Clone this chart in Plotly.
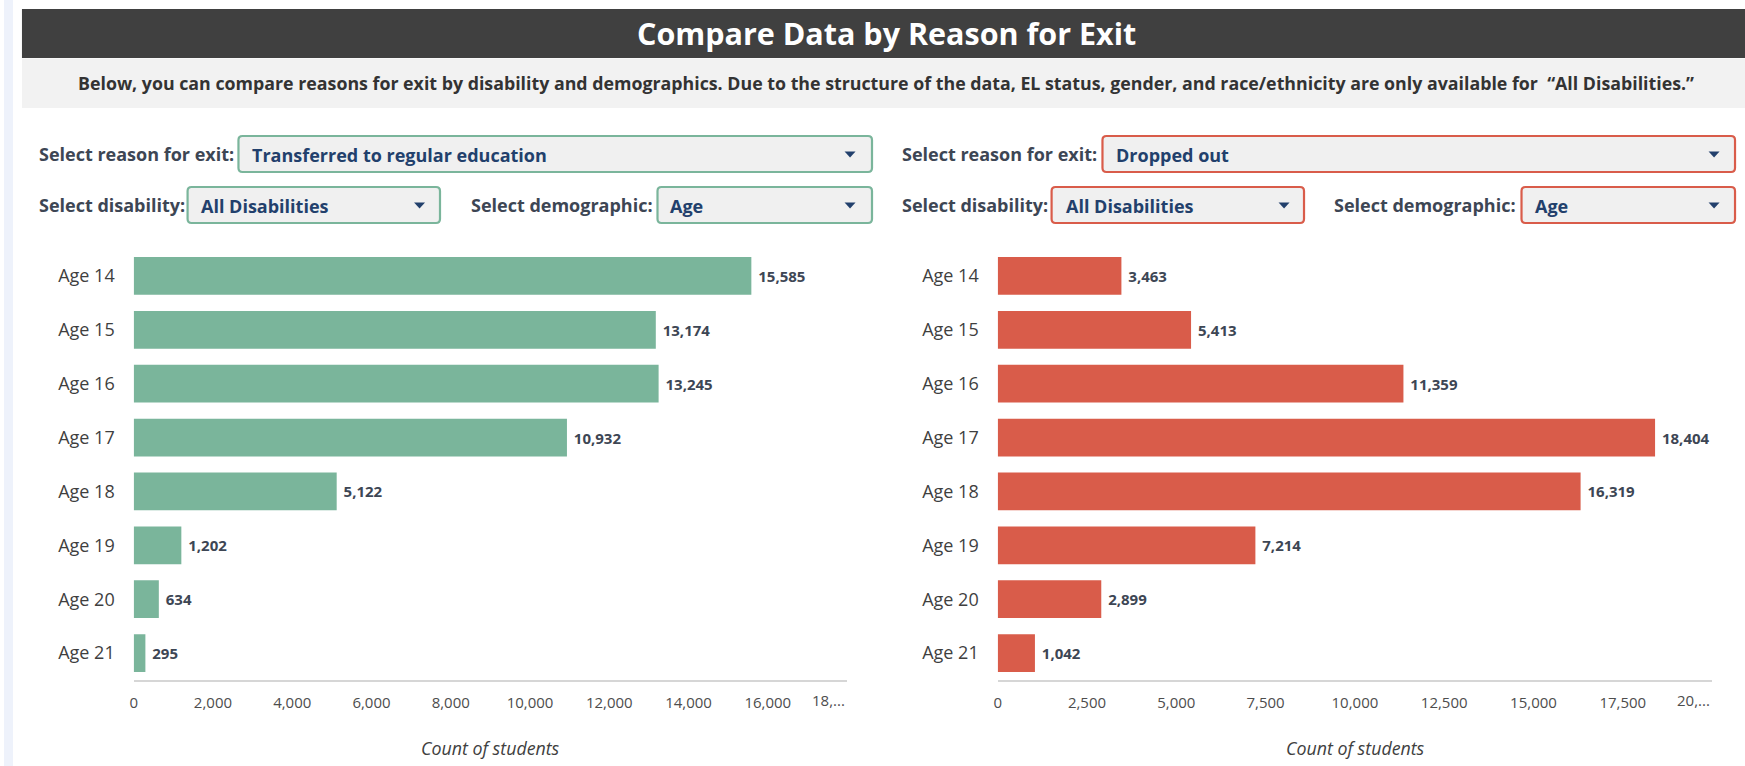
import plotly.graph_objects as go

# ---------------- data ----------------
ages = ["Age 14", "Age 15", "Age 16", "Age 17", "Age 18", "Age 19", "Age 20", "Age 21"]
transferred = [15585, 13174, 13245, 10932, 5122, 1202, 634, 295]
dropped = [3463, 5413, 11359, 18404, 16319, 7214, 2899, 1042]

left_ticks = [0, 2000, 4000, 6000, 8000, 10000, 12000, 14000, 16000]
right_ticks = [0, 2500, 5000, 7500, 10000, 12500, 15000, 17500]
left_trunc_label = "18,..."
right_trunc_label = "20,..."

title_text = "Compare Data by Reason for Exit"
subtitle_text = ("Below, you can compare reasons for exit by disability and demographics. "
                 "Due to the structure of the data, EL status, gender, and race/ethnicity are "
                 "only available for \u00a0\u201cAll Disabilities.\u201d")
x_title = "Count of students"

# ---------------- layout helpers ----------------
W, H = 1745, 766
FONT = "Open Sans"
GREEN = "#7ab59b"
RED = "#d95c4a"
LABEL_C = "#3d4654"
NAVY = "#22406c"
TICK_C = "#4d4d4d"


def px(x):
    return x / W


def py(y):
    return 1 - y / H


def path_from(pts_cmds):
    s = ""
    for cmd, ps in pts_cmds:
        s += cmd + " " + " ".join(f"{px(a):.6f},{py(b):.6f}" for a, b in ps) + " "
    return s + "Z"


def rrect(x0, y0, x1, y1, r=4):
    return path_from([
        ("M", [(x0 + r, y0)]),
        ("L", [(x1 - r, y0)]),
        ("Q", [(x1, y0), (x1, y0 + r)]),
        ("L", [(x1, y1 - r)]),
        ("Q", [(x1, y1), (x1 - r, y1)]),
        ("L", [(x0 + r, y1)]),
        ("Q", [(x0, y1), (x0, y1 - r)]),
        ("L", [(x0, y0 + r)]),
        ("Q", [(x0, y0), (x0 + r, y0)]),
    ])


def tri(xc, yc, w=11, h=6):
    return path_from([
        ("M", [(xc - w / 2, yc - h / 2)]),
        ("L", [(xc + w / 2, yc - h / 2)]),
        ("L", [(xc, yc + h / 2)]),
    ])


fig = go.Figure()

bar_text_font = dict(family=FONT, size=15, color=LABEL_C, weight=700)
fig.add_trace(go.Bar(
    y=ages, x=transferred, orientation="h", marker=dict(color=GREEN, line=dict(width=0)),
    texttemplate="\u00a0%{x:,}", textposition="outside", cliponaxis=False,
    textfont=bar_text_font, xaxis="x", yaxis="y", showlegend=False, hoverinfo="skip",
))
fig.add_trace(go.Bar(
    y=ages, x=dropped, orientation="h", marker=dict(color=RED, line=dict(width=0)),
    texttemplate="\u00a0%{x:,}", textposition="outside", cliponaxis=False,
    textfont=bar_text_font, xaxis="x2", yaxis="y2", showlegend=False, hoverinfo="skip",
))

y_dom = [py(680), py(249)]
axis_common_x = dict(
    showgrid=False, zeroline=False, showline=True, linecolor="#d6d6d6", linewidth=2,
    ticks="", ticklabelstandoff=8, tickformat=",d",
    tickfont=dict(family=FONT, size=15, color=TICK_C), fixedrange=True,
)
axis_common_y = dict(
    showgrid=False, zeroline=False, showline=False, ticks="",
    categoryorder="array", categoryarray=ages, autorange="reversed",
    tickfont=dict(family=FONT, size=18, color="#3f3f3f"), ticklabelstandoff=18, fixedrange=True,
)

fig.update_layout(
    width=W, height=H, autosize=False,
    margin=dict(l=0, r=0, t=0, b=0, pad=0),
    paper_bgcolor="white", plot_bgcolor="white",
    font=dict(family=FONT),
    bargap=0.298,
    xaxis=dict(domain=[px(130), px(845)], range=[0, 18000], tickvals=left_ticks, anchor="y", **axis_common_x),
    yaxis=dict(domain=y_dom, anchor="x", **axis_common_y),
    xaxis2=dict(domain=[px(996), px(1712)], range=[0, 20000], tickvals=right_ticks, anchor="y2", **axis_common_x),
    yaxis2=dict(domain=y_dom, anchor="x2", **axis_common_y),
)

shapes = []
# left light strip
shapes.append(dict(type="rect", xref="paper", yref="paper", x0=0, x1=px(9), y0=0, y1=1,
                   fillcolor="#eef2fb", line=dict(width=0), layer="below"))
# header bands
shapes.append(dict(type="rect", xref="paper", yref="paper", x0=px(18), x1=1, y0=py(58), y1=py(9),
                   fillcolor="#404040", line=dict(width=0), layer="below"))
shapes.append(dict(type="rect", xref="paper", yref="paper", x0=px(18), x1=1, y0=py(108), y1=py(58.5),
                   fillcolor="#f2f2f2", line=dict(width=0), layer="below"))

annotations = [
    dict(text=title_text, x=px(885), y=py(33.5), xref="paper", yref="paper", showarrow=False,
         xanchor="center", yanchor="middle",
         font=dict(family=FONT, size=30.5, color="white", weight=700)),
    dict(text=subtitle_text, x=px(884), y=py(83), xref="paper", yref="paper", showarrow=False,
         xanchor="center", yanchor="middle",
         font=dict(family=FONT, size=17.8, color="#333333", weight=700)),
]

# dropdown controls: (label, label_x_left, box_x0, box_x1, row_center, value, text_x, arrow_x, color)
controls = [
    ("Select reason for exit:", 36, 235, 870, 154, "Transferred to regular education", 250, 848, GREEN),
    ("Select disability:", 36, 184, 437, 205, "All Disabilities", 198, 416.5, GREEN),
    ("Select demographic:", 469, 655, 870, 205, "Age", 669, 848, GREEN),
    ("Select reason for exit:", 901, 1101, 1735, 154, "Dropped out", 1116, 1714, RED),
    ("Select disability:", 901, 1050, 1303, 205, "All Disabilities", 1065, 1283, RED),
    ("Select demographic:", 1334, 1521, 1735, 205, "Age", 1536, 1714, RED),
]
for label, lx, bx0, bx1, yc, val, tx, ax, col in controls:
    shapes.append(dict(type="path", xref="paper", yref="paper", path=rrect(bx0, yc - 18, bx1, yc + 18, 4),
                       fillcolor="#f0f0f0", line=dict(color=col, width=2.2), layer="below"))
    shapes.append(dict(type="path", xref="paper", yref="paper", path=tri(ax, yc + 0.5),
                       fillcolor=NAVY, line=dict(width=0), layer="above"))
    annotations.append(dict(text=label, x=px(lx - 3), y=py(yc), xref="paper", yref="paper", showarrow=False,
                            xanchor="left", yanchor="middle",
                            font=dict(family=FONT, size=18, color=LABEL_C, weight=700)))
    annotations.append(dict(text=val, x=px(tx - 3), y=py(yc + 1), xref="paper", yref="paper", showarrow=False,
                            xanchor="left", yanchor="middle",
                            font=dict(family=FONT, size=18, color=NAVY, weight=700)))

# truncated last tick labels
annotations.append(dict(text=left_trunc_label, x=18000, xref="x", y=py(700), yref="paper", showarrow=False,
                        xanchor="right", yanchor="middle",
                        font=dict(family=FONT, size=15, color=TICK_C)))
annotations.append(dict(text=right_trunc_label, x=20000, xref="x2", y=py(700), yref="paper", showarrow=False,
                        xanchor="right", yanchor="middle",
                        font=dict(family=FONT, size=15, color=TICK_C)))
# axis titles
annotations.append(dict(text=x_title, x=px(488), y=py(748), xref="paper", yref="paper", showarrow=False,
                        xanchor="center", yanchor="middle",
                        font=dict(family=FONT, size=17.8, color="#404040", style="italic")))
annotations.append(dict(text=x_title, x=px(1355), y=py(748), xref="paper", yref="paper", showarrow=False,
                        xanchor="center", yanchor="middle",
                        font=dict(family=FONT, size=17.8, color="#404040", style="italic")))

fig.update_layout(shapes=shapes, annotations=annotations)

fig.write_html("out.html", config={"displayModeBar": False},
               post_script="document.body.style.margin='0';document.body.style.overflow='hidden';")
